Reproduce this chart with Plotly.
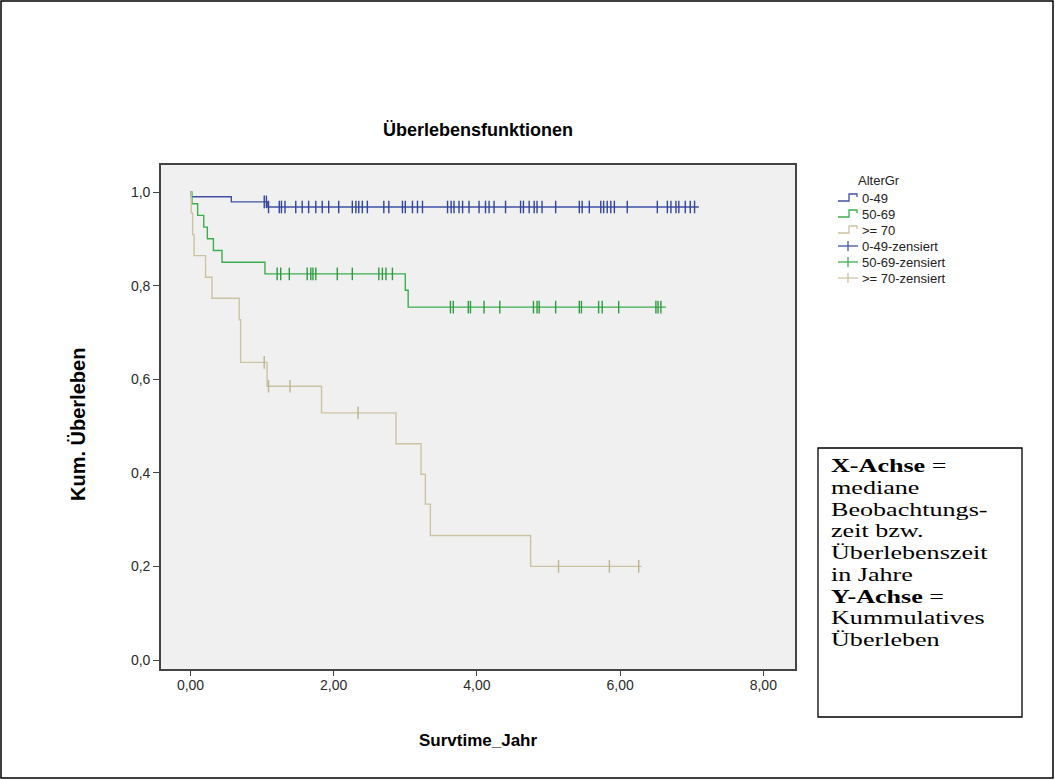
import numpy as np
import plotly.graph_objects as go

# ---------------- data ----------------
group_names = ["0-49", "50-69", ">= 70"]
censor_names = ["0-49-zensiert", "50-69-zensiert", ">= 70-zensiert"]

# 0-49
blue_step_t = [0.01, 0.57, 1.08]
blue_step_s = [0.990, 0.979, 0.968]
blue_end = 7.10
blue_cens_t = [1.03, 1.06, 1.09, 1.24, 1.27, 1.32, 1.47, 1.56, 1.65, 1.75, 1.84, 1.93,
               2.07, 2.26, 2.31, 2.35, 2.40, 2.47, 2.70, 2.77, 2.96, 3.00, 3.10, 3.17,
               3.24, 3.59, 3.64, 3.68, 3.75, 3.80, 3.89, 4.03, 4.12, 4.17, 4.24, 4.40,
               4.61, 4.65, 4.73, 4.80, 4.84, 4.91, 5.10, 5.43, 5.47, 5.57, 5.73, 5.77,
               5.82, 5.87, 5.92, 6.10, 6.52, 6.66, 6.71, 6.78, 6.82, 6.91, 6.98, 7.04]

# 50-69
green_step_t = [0.02, 0.10, 0.185, 0.235, 0.32, 0.44, 1.04, 3.00, 3.04]
green_step_s = [0.975, 0.950, 0.925, 0.900, 0.875, 0.850, 0.825, 0.790, 0.754]
green_end = 6.64
green_cens_t = [1.21, 1.26, 1.38, 1.63, 1.68, 1.71, 1.75, 2.05, 2.26, 2.63, 2.68, 2.73,
                2.82, 3.63, 3.67, 3.88, 3.91, 4.10, 4.32, 4.79, 4.84, 4.87, 5.10, 5.43,
                5.46, 5.70, 5.75, 5.98, 6.50, 6.53, 6.57]

# >= 70
tan_step_t = [0.01, 0.03, 0.05, 0.21, 0.30, 0.68, 0.70, 1.07, 1.83, 2.87, 3.22, 3.28,
              3.35, 4.75]
tan_step_s = [0.955, 0.909, 0.864, 0.818, 0.773, 0.727, 0.636, 0.585, 0.528, 0.462,
              0.397, 0.333, 0.266, 0.200]
tan_end = 6.30
tan_cens_t = [1.03, 1.09, 1.39, 2.34, 5.14, 5.85, 6.26]

x_ticks = [0, 2, 4, 6, 8]
y_ticks = [0.0, 0.2, 0.4, 0.6, 0.8, 1.0]

box_lines = ["<b>X-Achse</b> =", "mediane", "Beobachtungs-", "zeit bzw.",
             "Überlebenszeit", "in Jahre", "<b>Y-Achse</b> =", "Kummulatives",
             "Überleben"]

# ---------------- styling ----------------
line_colors = ["#3F51A5", "#3DAE4F", "#CBC4A2"]
mark_colors = ["#34449A", "#2E9A41", "#BDB592"]

W, H = 1055, 780
L, R, T, B = 161, 795, 165, 669
X0_PX, X_PER = 190.5, 71.6      # pixel of t=0, pixels per year
Y1_PX, Y0_PX = 192, 660         # pixel of 1.0 and 0.0


def px(xp):
    return (xp - L) / (R - L)


def py(yp):
    return (B - yp) / (B - T)


def step_value(step_t, step_s, t):
    idx = np.searchsorted(np.asarray(step_t), np.asarray(t), side="right") - 1
    levels = np.concatenate([[1.0], np.asarray(step_s)])
    return levels[idx + 1]


fig = go.Figure()

series = [
    (blue_step_t, blue_step_s, blue_end, blue_cens_t),
    (green_step_t, green_step_s, green_end, green_cens_t),
    (tan_step_t, tan_step_s, tan_end, tan_cens_t),
]

for i, (st, ss, end, ct) in enumerate(series):
    xs = [0.0] + list(st) + [end]
    ys = [1.0] + list(ss) + [ss[-1]]
    fig.add_trace(go.Scatter(x=xs, y=ys, mode="lines", line_shape="hv",
                             line=dict(color=line_colors[i], width=1.4),
                             name=group_names[i], showlegend=False,
                             hoverinfo="skip"))

for i, (st, ss, end, ct) in enumerate(series):
    fig.add_trace(go.Scatter(x=ct, y=step_value(st, ss, ct), mode="markers",
                             marker=dict(symbol="line-ns", size=9,
                                         line=dict(color=mark_colors[i], width=1.4)),
                             name=censor_names[i], showlegend=False,
                             hoverinfo="skip"))

shapes = []
annotations = []

# outer frame
shapes.append(dict(type="rect", xref="paper", yref="paper",
                   x0=px(1), x1=px(1053), y0=py(1), y1=py(778),
                   line=dict(color="black", width=1.5)))

# text box
shapes.append(dict(type="rect", xref="paper", yref="paper",
                   x0=px(818), x1=px(1022), y0=py(448), y1=py(717),
                   line=dict(color="black", width=1.3)))
for k, txt in enumerate(box_lines):
    annotations.append(dict(text=txt, xref="paper", yref="paper",
                            x=px(829), y=py(466 + k * 21.75), xanchor="left",
                            yanchor="middle", showarrow=False,
                            font=dict(family="Liberation Serif, Times New Roman, serif",
                                      size=18, color="black")))

# legend (drawn manually)
annotations.append(dict(text="AlterGr", xref="paper", yref="paper", x=px(879),
                        y=py(180), xanchor="center", yanchor="middle",
                        showarrow=False,
                        font=dict(family="Liberation Sans, Arial", size=13,
                                  color="#222")))
row_y = [198, 214, 230, 246, 262, 278]
for k in range(3):
    yc = row_y[k]
    path = "M {a},{b} L {c},{b} L {c},{d} L {e},{d} L {e},{f}".format(
        a=px(838), b=py(yc + 3), c=px(849), d=py(yc - 4), e=px(857), f=py(yc - 1))
    shapes.append(dict(type="path", xref="paper", yref="paper", path=path,
                       line=dict(color=line_colors[k], width=1.3)))
    annotations.append(dict(text=group_names[k], xref="paper", yref="paper",
                            x=px(860), y=py(yc), xanchor="left", yanchor="middle",
                            showarrow=False,
                            font=dict(family="Liberation Sans, Arial", size=13,
                                      color="#222")))
for k in range(3):
    yc = row_y[k + 3]
    shapes.append(dict(type="line", xref="paper", yref="paper",
                       x0=px(838), x1=px(858), y0=py(yc), y1=py(yc),
                       line=dict(color=line_colors[k], width=1.3)))
    shapes.append(dict(type="line", xref="paper", yref="paper",
                       x0=px(848), x1=px(848), y0=py(yc - 5), y1=py(yc + 5),
                       line=dict(color=line_colors[k], width=1.3)))
    annotations.append(dict(text=censor_names[k], xref="paper", yref="paper",
                            x=px(860), y=py(yc), xanchor="left", yanchor="middle",
                            showarrow=False,
                            font=dict(family="Liberation Sans, Arial", size=13,
                                      color="#222")))

# titles
annotations.append(dict(text="<b>Überlebensfunktionen</b>", xref="paper", yref="paper",
                        x=px(478), y=py(130), xanchor="center", yanchor="middle",
                        showarrow=False,
                        font=dict(family="Liberation Sans, Arial", size=18,
                                  color="black")))
annotations.append(dict(text="<b>Survtime_Jahr</b>", xref="paper", yref="paper",
                        x=px(478), y=py(740), xanchor="center", yanchor="middle",
                        showarrow=False,
                        font=dict(family="Liberation Sans, Arial", size=17,
                                  color="black")))
annotations.append(dict(text="<b>Kum. Überleben</b>", xref="paper", yref="paper",
                        x=px(78), y=py(425), xanchor="center", yanchor="middle",
                        textangle=-90, showarrow=False,
                        font=dict(family="Liberation Sans, Arial", size=20,
                                  color="black")))

x_lo = -(X0_PX - L) / X_PER
x_hi = (R - X0_PX) / X_PER
y_per = Y0_PX - Y1_PX
y_lo = -(B - Y0_PX) / y_per
y_hi = 1 + (Y1_PX - T) / y_per

fig.update_layout(
    width=W, height=H,
    margin=dict(l=L, r=W - R, t=T, b=H - B, pad=0),
    paper_bgcolor="white", plot_bgcolor="#F0F0F0",
    separators=",.",
    showlegend=False,
    shapes=shapes, annotations=annotations,
    font=dict(family="Liberation Sans, Arial", size=14, color="#333"),
)
fig.update_xaxes(range=[x_lo, x_hi], tickvals=x_ticks, tickformat=".2f",
                 ticks="outside", ticklen=5, tickwidth=1.3, tickcolor="#444",
                 ticklabelstandoff=-3,
                 showline=True, mirror=True, linecolor="#444", linewidth=1.6,
                 showgrid=False, zeroline=False,
                 tickfont=dict(size=14, color="#2a2a2a"))
fig.update_yaxes(range=[y_lo, y_hi], tickvals=y_ticks, tickformat=".1f",
                 ticks="outside", ticklen=6, tickwidth=1.3, tickcolor="#444",
                 showline=True, mirror=True, linecolor="#444", linewidth=1.6,
                 showgrid=False, zeroline=False,
                 tickfont=dict(size=14, color="#2a2a2a"))

post = """
document.body.style.margin = '0';
document.querySelectorAll('text.annotation-text').forEach(function(t){
  if ((t.style.fontFamily || '').indexOf('Serif') >= 0) {
    t.style.transformBox = 'fill-box';
    t.style.transformOrigin = 'left center';
    t.style.transform = 'scaleX(1.45)';
  }
});
"""

fig.write_html("out.html", post_script=post, config={"displayModeBar": False})
